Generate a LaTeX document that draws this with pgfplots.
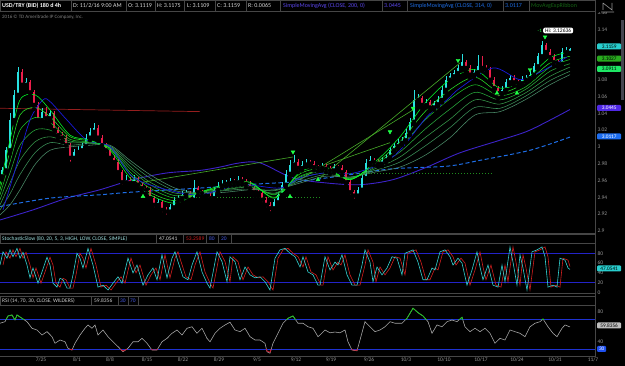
\documentclass[border=0pt]{standalone}
\usepackage{fontspec}
\setmainfont{Carlito}
\usepackage{pgfplots}
\usepackage{pgfplotstable}
\pgfplotsset{compat=1.18}
\definecolor{upc}{RGB}{40,225,225}
\definecolor{dnc}{RGB}{235,30,75}
\definecolor{rA}{RGB}{0,255,40}
\definecolor{rB}{RGB}{40,225,40}
\definecolor{rC}{RGB}{30,195,40}
\definecolor{rD}{RGB}{40,170,60}
\definecolor{rE}{RGB}{55,155,75}
\definecolor{rF}{RGB}{60,145,90}
\definecolor{rG}{RGB}{75,140,105}
\definecolor{emab}{RGB}{25,25,220}
\definecolor{smaA}{RGB}{60,35,200}
\definecolor{smaB}{RGB}{30,110,230}
\definecolor{hred}{RGB}{150,30,30}
\definecolor{trendg}{RGB}{70,170,40}
\definecolor{dotg}{RGB}{30,140,30}
\definecolor{arrg}{RGB}{30,255,70}
\definecolor{stk}{RGB}{50,210,210}
\definecolor{std}{RGB}{210,30,30}
\definecolor{band}{RGB}{35,35,200}
\definecolor{rsigray}{RGB}{165,165,165}
\definecolor{rsig}{RGB}{20,200,20}
\definecolor{rsir}{RGB}{220,20,40}
\definecolor{rband}{RGB}{30,50,210}
\definecolor{tickg}{RGB}{150,150,150}
\definecolor{boxl}{RGB}{70,70,70}
\definecolor{sbar}{RGB}{70,70,80}
\definecolor{ribt}{RGB}{20,100,20}
\definecolor{stht}{RGB}{160,225,225}
\definecolor{hdrt}{RGB}{90,70,235}
\definecolor{bxcy}{RGB}{40,205,205}
\definecolor{bxgr}{RGB}{40,170,30}
\definecolor{bxlg}{RGB}{30,230,100}
\definecolor{bxpu}{RGB}{80,40,230}
\definecolor{bxbl}{RGB}{30,110,240}
\definecolor{bxgy}{RGB}{190,190,190}
\definecolor{bxb3}{RGB}{30,80,240}
\definecolor{bluet}{RGB}{70,90,230}
\newcommand\ft{\fontsize{5.5}{6.5}\selectfont}
\newcommand\hf{\fontsize{6}{7}\selectfont}

\pgfplotstableread{
x o h l c
2 2.965 2.976 2.961 2.972
6 2.972 3.000 2.969 2.996
10 2.996 3.040 2.992 3.032
14 3.032 3.068 3.028 3.062
18 3.062 3.095 3.058 3.089
26 3.074 3.082 3.070 3.077
42 3.032 3.046 3.029 3.042
50 3.034 3.044 3.030 3.040
74 2.987 2.998 2.984 2.994
78 2.994 3.001 2.990 2.996
82 2.996 3.005 2.993 3.001
86 3.001 3.015 2.998 3.011
90 3.011 3.022 3.008 3.018
94 3.018 3.028 3.014 3.023
126 2.958 2.966 2.955 2.961
134 2.957 2.966 2.954 2.961
158 2.931 2.938 2.927 2.934
170 2.923 2.932 2.920 2.928
174 2.928 2.940 2.925 2.937
178 2.937 2.943 2.933 2.939
182 2.939 2.947 2.936 2.943
186 2.943 2.949 2.940 2.945
194 2.937 2.960 2.934 2.951
214 2.939 2.952 2.936 2.949
218 2.949 2.958 2.946 2.954
222 2.954 2.960 2.951 2.956
226 2.956 2.961 2.953 2.957
230 2.957 2.963 2.954 2.959
238 2.958 2.965 2.955 2.961
274 2.927 2.938 2.924 2.934
278 2.934 2.946 2.931 2.943
282 2.943 2.958 2.940 2.955
286 2.955 2.972 2.952 2.968
290 2.968 2.984 2.965 2.979
294 2.979 2.990 2.975 2.982
302 2.975 2.983 2.972 2.979
306 2.979 2.985 2.976 2.981
322 2.975 2.981 2.972 2.977
334 2.972 2.980 2.969 2.976
358 2.942 2.952 2.939 2.949
362 2.949 2.967 2.946 2.963
366 2.963 2.985 2.960 2.981
370 2.981 2.989 2.978 2.984
382 2.980 2.988 2.977 2.984
386 2.984 2.992 2.981 2.988
390 2.988 3.000 2.985 2.996
394 2.996 3.005 2.993 3.001
398 3.001 3.009 2.998 3.005
402 3.005 3.012 3.002 3.008
406 3.008 3.021 3.005 3.017
410 3.017 3.034 3.014 3.030
414 3.030 3.068 3.027 3.056
418 3.056 3.063 3.052 3.058
426 3.050 3.057 3.047 3.053
434 3.047 3.055 3.044 3.051
438 3.051 3.060 3.048 3.056
442 3.056 3.072 3.053 3.068
446 3.068 3.084 3.065 3.080
450 3.080 3.088 3.077 3.084
454 3.084 3.092 3.081 3.088
458 3.088 3.098 3.085 3.094
462 3.094 3.110 3.091 3.101
474 3.086 3.093 3.083 3.089
478 3.089 3.109 3.086 3.096
502 3.064 3.072 3.060 3.068
506 3.068 3.081 3.065 3.077
510 3.077 3.086 3.074 3.082
522 3.076 3.084 3.073 3.080
526 3.080 3.086 3.077 3.082
530 3.082 3.090 3.079 3.086
534 3.086 3.100 3.083 3.096
538 3.096 3.112 3.093 3.108
542 3.108 3.126 3.105 3.121
562 3.099 3.118 3.096 3.113
566 3.113 3.119 3.110 3.115
570 3.112 3.118 3.111 3.116
}\upcandles

\pgfplotstableread{
x o h l c
22 3.089 3.093 3.070 3.074
30 3.077 3.080 3.061 3.065
34 3.065 3.068 3.045 3.050
38 3.050 3.053 3.028 3.032
46 3.042 3.047 3.030 3.034
54 3.040 3.043 3.016 3.020
58 3.020 3.024 3.010 3.014
62 3.014 3.018 3.006 3.011
66 3.011 3.014 2.997 3.002
70 3.002 3.005 2.980 2.987
98 3.023 3.026 3.007 3.011
102 3.011 3.014 2.998 3.002
106 3.002 3.005 2.991 2.996
110 2.996 2.999 2.983 2.987
114 2.987 2.990 2.978 2.982
118 2.982 2.985 2.966 2.970
122 2.970 2.973 2.953 2.958
130 2.961 2.964 2.953 2.957
138 2.961 2.964 2.951 2.955
142 2.955 2.958 2.947 2.951
146 2.951 2.954 2.944 2.949
150 2.949 2.952 2.935 2.939
154 2.939 2.942 2.926 2.931
162 2.934 2.937 2.920 2.925
166 2.925 2.928 2.917 2.923
190 2.945 2.948 2.933 2.937
198 2.951 2.954 2.942 2.946
202 2.946 2.949 2.941 2.945
206 2.945 2.948 2.938 2.942
210 2.942 2.945 2.935 2.939
234 2.959 2.962 2.954 2.958
242 2.961 2.964 2.955 2.959
246 2.959 2.962 2.952 2.956
250 2.956 2.959 2.947 2.951
254 2.951 2.954 2.942 2.946
258 2.946 2.949 2.941 2.945
262 2.945 2.948 2.932 2.937
266 2.937 2.940 2.926 2.931
270 2.931 2.934 2.921 2.927
298 2.982 2.985 2.970 2.975
310 2.981 2.984 2.976 2.980
314 2.980 2.983 2.972 2.976
318 2.976 2.979 2.971 2.975
326 2.977 2.980 2.970 2.974
330 2.974 2.977 2.968 2.972
338 2.976 2.979 2.971 2.975
342 2.975 2.978 2.966 2.970
346 2.970 2.973 2.954 2.958
350 2.958 2.961 2.941 2.946
354 2.946 2.949 2.936 2.942
374 2.984 2.987 2.978 2.982
378 2.982 2.986 2.977 2.980
422 3.058 3.061 3.046 3.050
430 3.053 3.056 3.043 3.047
466 3.101 3.104 3.090 3.094
470 3.094 3.097 3.082 3.086
482 3.096 3.108 3.090 3.094
486 3.094 3.098 3.088 3.092
490 3.092 3.095 3.076 3.080
494 3.080 3.083 3.066 3.070
498 3.070 3.073 3.058 3.064
514 3.082 3.085 3.073 3.077
518 3.077 3.080 3.072 3.076
546 3.121 3.124 3.109 3.113
550 3.113 3.116 3.103 3.107
554 3.107 3.110 3.097 3.101
558 3.101 3.104 3.095 3.099
}\dncandles

\pgfplotstableread{
x r1 r2 r3 r4 r5 r6 r7
0 2.955 2.949 2.943 2.937 2.931 2.925 2.919
10 3.008 2.995 2.982 2.969 2.957 2.944 2.931
20 3.056 3.038 3.020 3.002 2.984 2.967 2.949
35 3.062 3.047 3.035 3.020 3.006 2.993 2.979
50 3.044 3.036 3.029 3.020 3.012 3.005 2.996
70 3.014 3.012 3.009 3.007 3.005 3.002 3.000
90 3.008 3.007 3.006 3.005 3.005 3.004 3.002
110 2.996 2.998 2.999 2.999 3.000 3.001 3.002
130 2.963 2.967 2.970 2.974 2.977 2.981 2.984
150 2.943 2.946 2.951 2.955 2.958 2.963 2.967
175 2.933 2.936 2.939 2.942 2.945 2.948 2.951
200 2.946 2.946 2.946 2.946 2.945 2.945 2.945
225 2.955 2.953 2.952 2.950 2.949 2.948 2.946
250 2.958 2.957 2.955 2.953 2.952 2.950 2.949
275 2.939 2.940 2.943 2.944 2.945 2.948 2.949
300 2.970 2.968 2.965 2.964 2.962 2.959 2.957
325 2.976 2.974 2.972 2.971 2.969 2.967 2.965
350 2.961 2.961 2.962 2.962 2.963 2.964 2.964
375 2.982 2.980 2.979 2.976 2.974 2.972 2.970
400 3.012 3.006 3.000 2.994 2.988 2.982 2.976
425 3.052 3.042 3.032 3.021 3.011 3.001 2.990
450 3.080 3.068 3.057 3.045 3.033 3.023 3.011
475 3.092 3.083 3.074 3.065 3.056 3.047 3.038
500 3.070 3.065 3.061 3.056 3.051 3.046 3.042
525 3.080 3.076 3.071 3.068 3.064 3.060 3.056
550 3.106 3.100 3.095 3.090 3.084 3.079 3.074
570 3.113 3.108 3.104 3.099 3.095 3.090 3.086
}\ribbon

\pgfplotstableread{
x v
0 64.7
5 66.8
8 74.4
12 75.7
15 69
17 75.7
22 71.3
27 66.8
32 58
37 55.7
42 49
47 53.5
52 46.8
55 38
60 42.4
65 40
68 31.3
72 29
75 38
80 49
85 58
88 62.4
92 58
95 62.4
98 49
103 55.7
108 46.8
113 40
118 33.5
123 26.8
128 31.3
133 40
138 40
142 44.6
147 38
152 29
157 29
162 40
167 44.6
172 51.3
177 55.7
182 49
187 58
192 60
197 51.3
202 58
207 44.6
210 40
215 51.3
220 58
225 62.4
230 66
235 55.7
240 53.5
245 58
250 46.8
255 42.4
260 42.4
265 38
267 26.8
270 24.7
273 38
278 51.3
283 64.7
288 71.3
293 74.4
298 64.7
303 64.7
308 60
313 58
318 46.8
320 49
325 55.7
330 52
335 53
340 52
345 55.7
348 40
352 29
357 28
360 42.4
365 66.8
370 60
375 53.5
380 55.7
385 60
390 66.8
395 64.7
402 64.7
407 71.3
413 84.7
418 78.8
423 74.4
428 66.8
432 51.3
437 62.4
442 60
447 66.8
452 69
457 66.8
462 72.7
465 60
470 53.5
475 58
480 53.5
485 58
490 51.3
495 38
500 44.6
505 42.4
510 55.7
515 53.5
520 51.3
525 46.8
530 60
535 64.7
540 66.8
543 70.4
548 60
553 51.3
557 46.8
562 58
565 62.4
570 59.8
}\rsi

\begin{document}
\begin{tikzpicture}[x=1pt,y=1pt]
\useasboundingbox (0pt,0pt) rectangle (625pt,366pt);
\fill[black] (0pt,0pt) rectangle (625pt,366pt);

% ---------------- main price panel ----------------
\begin{axis}[at={(0pt,133pt)}, anchor=south west, scale only axis,
  width=595pt, height=221pt,
  xmin=0, xmax=595, ymin=2.8975, ymax=3.1606,
  axis line style={draw=none}, xtick=\empty,
  ytick={2.9,2.92,2.94,2.96,2.98,3,3.02,3.04,3.06,3.08,3.14,3.16},
  yticklabels={2.9,2.92,2.94,2.96,2.98,3,3.02,3.04,3.06,3.08,3.14,3.16},
  yticklabel pos=right, major tick length=0pt,
  /pgf/number format/assume math mode=true,
  yticklabel style={font=\ft, text=tickg, anchor=west, xshift=-1pt},
  clip=true]
\addplot[smaA, line width=0.9pt, smooth] coordinates {(0,2.913)(33,2.925)(67,2.939)(100,2.949)(133,2.961)(167,2.969)(200,2.972)(220,2.976)(240,2.981)(260,2.981)(293,2.963)(327,2.957)(360,2.955)(393,2.961)(427,2.976)(460,2.993)(500,3.008)(530,3.020)(570,3.0445)};
\addplot[smaB, line width=1pt, dash pattern=on 4pt off 2.5pt, smooth] coordinates {(0,2.929)(50,2.939)(100,2.943)(130,2.946)(200,2.951)(260,2.956)(300,2.959)(350,2.967)(393,2.974)(447,2.977)(480,2.984)(530,2.996)(570,3.0117)};
\addplot[hred, line width=0.7pt] coordinates {(0,3.046)(200,3.042)};
\addplot[only marks, mark=none, forget plot, error bars/.cd, y dir=plus, y explicit, error mark=none,
  error bar style={line width=0.6pt, draw=upc}] table[x=x, y=l, y error expr=\thisrow{h}-\thisrow{l}] {\upcandles};
\addplot[only marks, mark=none, forget plot, error bars/.cd, y dir=plus, y explicit, error mark=none,
  error bar style={line width=2.9pt, draw=upc, line cap=butt}] table[x=x, y=o, y error expr=\thisrow{c}-\thisrow{o}] {\upcandles};
\addplot[only marks, mark=none, forget plot, error bars/.cd, y dir=plus, y explicit, error mark=none,
  error bar style={line width=0.6pt, draw=dnc}] table[x=x, y=l, y error expr=\thisrow{h}-\thisrow{l}] {\dncandles};
\addplot[only marks, mark=none, forget plot, error bars/.cd, y dir=plus, y explicit, error mark=none,
  error bar style={line width=2.9pt, draw=dnc, line cap=butt}] table[x=x, y=c, y error expr=\thisrow{o}-\thisrow{c}] {\dncandles};
\addplot[rG, line width=0.55pt, smooth] table[x=x, y=r7] {\ribbon};
\addplot[rF, line width=0.55pt, smooth] table[x=x, y=r6] {\ribbon};
\addplot[rE, line width=0.55pt, smooth] table[x=x, y=r5] {\ribbon};
\addplot[rD, line width=0.55pt, smooth] table[x=x, y=r4] {\ribbon};
\addplot[rC, line width=0.55pt, smooth] table[x=x, y=r3] {\ribbon};
\addplot[rB, line width=0.55pt, smooth] table[x=x, y=r2] {\ribbon};
\addplot[emab, line width=0.7pt, smooth] coordinates {(3,2.925)(15,2.972)(30,3.032)(43,3.056)(50,3.054)(67,3.032)(87,3.008)(110,3.000)(133,2.964)(167,2.949)(200,2.943)(240,2.955)(280,2.951)(300,2.963)(330,2.970)(350,2.968)(380,2.979)(400,2.996)(427,3.036)(447,3.056)(460,3.070)(493,3.094)(520,3.080)(540,3.089)(567,3.107)};
\addplot[rA, line width=0.55pt, smooth] table[x=x, y=r1] {\ribbon};
\addplot[trendg, line width=0.6pt] coordinates {(143,2.958)(293,2.988)};
\addplot[trendg, line width=0.6pt] coordinates {(300,2.961)(413,3.044)};
\addplot[trendg, line width=0.6pt] coordinates {(320,2.963)(460,3.100)};
\addplot[trendg, line width=0.6pt] coordinates {(327,2.979)(390,3.005)};
\addplot[dotg, line width=0.8pt, dash pattern=on 1.2pt off 1.8pt] coordinates {(190,2.940)(320,2.940)};
\addplot[dotg, line width=0.8pt, dash pattern=on 1.2pt off 1.8pt] coordinates {(347,2.969)(493,2.969)};
\addplot[only marks, mark=triangle*, mark size=2.2pt, mark options={rotate=180, fill=arrg, draw=arrg}] coordinates {(293,2.994)(390,3.018)(413,3.046)(458,3.103)(530,3.092)(545,3.131)};
\addplot[only marks, mark=triangle*, mark size=2.2pt, mark options={fill=arrg, draw=arrg}] coordinates {(143,2.941)(290,2.941)(318,2.961)(497,3.064)(517,3.064)};
\end{axis}

% ---------------- stochastic panel ----------------
\begin{axis}[at={(0pt,73.5pt)}, anchor=south west, scale only axis,
  width=595pt, height=49pt,
  xmin=0, xmax=595, ymin=0, ymax=100,
  axis line style={draw=none}, xtick=\empty,
  ytick={0,20,40,60,80}, yticklabels={0,20,40,60,80},
  yticklabel pos=right, major tick length=0pt,
  yticklabel style={font=\ft, text=tickg, anchor=west, xshift=-1pt},
  clip=true]
\addplot[band, line width=1pt] coordinates {(0,80)(595,80)};
\addplot[band, line width=1pt] coordinates {(0,20)(595,20)};
\addplot[std, line width=0.6pt] coordinates {(3,56)(6,83)(10,70)(13,87)(16,73)(20,90)(23,70)(26,82)(30,56)(33,30)(36,50)(41,19)(45,42)(50,72)(53,56)(56,19)(60,11)(63,29)(66,26)(70,9)(73,9)(76,36)(80,80)(83,70)(86,50)(91,90)(96,56)(101,11)(106,15)(111,5)(116,19)(121,32)(125,19)(131,70)(136,40)(140,56)(146,15)(151,36)(156,50)(160,26)(165,77)(170,30)(175,70)(178,83)(181,63)(186,32)(191,26)(195,56)(200,83)(205,42)(210,19)(213,9)(220,83)(225,63)(230,22)(233,73)(238,63)(243,26)(248,52)(253,36)(258,30)(263,32)(268,22)(273,5)(278,70)(283,87)(288,90)(293,80)(298,73)(303,52)(306,73)(311,42)(316,36)(321,15)(323,15)(328,73)(333,46)(338,62)(341,56)(345,77)(350,36)(355,15)(360,15)(365,56)(368,87)(373,62)(376,22)(380,52)(385,36)(390,50)(395,73)(400,70)(405,36)(408,80)(416,87)(421,62)(426,26)(430,26)(435,50)(438,46)(443,83)(448,87)(453,73)(456,56)(461,70)(465,60)(470,15)(475,46)(480,83)(483,52)(486,26)(491,56)(496,15)(501,11)(505,56)(508,22)(513,93)(516,62)(520,15)(523,77)(526,50)(530,5)(535,83)(540,87)(545,93)(548,73)(551,11)(556,15)(560,11)(563,70)(568,66)(570,53)};
\addplot[stk, line width=0.6pt] coordinates {(0,56)(3,83)(7,70)(10,87)(13,73)(17,90)(20,70)(23,82)(27,56)(30,30)(33,50)(38,19)(42,42)(47,72)(50,56)(53,19)(57,11)(60,29)(63,26)(67,9)(70,9)(73,36)(77,80)(80,70)(83,50)(88,90)(93,56)(98,11)(103,15)(108,5)(113,19)(118,32)(122,19)(128,70)(133,40)(137,56)(143,15)(148,36)(153,50)(157,26)(162,77)(167,30)(172,70)(175,83)(178,63)(183,32)(188,26)(192,56)(197,83)(202,42)(207,19)(210,9)(217,83)(222,63)(227,22)(230,73)(235,63)(240,26)(245,52)(250,36)(255,30)(260,32)(265,22)(270,5)(275,70)(280,87)(285,90)(290,80)(295,73)(300,52)(303,73)(308,42)(313,36)(318,15)(320,15)(325,73)(330,46)(335,62)(338,56)(342,77)(347,36)(352,15)(357,15)(362,56)(365,87)(370,62)(373,22)(377,52)(382,36)(387,50)(392,73)(397,70)(402,36)(405,80)(413,87)(418,62)(423,26)(427,26)(432,50)(435,46)(440,83)(445,87)(450,73)(453,56)(458,70)(462,60)(467,15)(472,46)(477,83)(480,52)(483,26)(488,56)(493,15)(498,11)(502,56)(505,22)(510,93)(513,62)(517,15)(520,77)(523,50)(527,5)(532,83)(537,87)(542,93)(545,73)(548,11)(553,15)(557,11)(560,70)(565,66)(568,50)(570,47)};
\end{axis}

% ---------------- RSI panel ----------------
\begin{axis}[at={(0pt,11pt)}, anchor=south west, scale only axis,
  width=595pt, height=49pt,
  xmin=0, xmax=595, ymin=22.4, ymax=87.7,
  axis line style={draw=none},
  xtick={41,77,110,147,183,219,257,296,331,369,406,444,481,517,555,593},
  xticklabels={7/25,8/1,8/8,8/15,8/22,8/29,9/5,9/12,9/19,9/26,10/3,10/10,10/17,10/24,10/31,11/7},
  xticklabel style={font=\ft, text=tickg, yshift=1pt},
  ytick={40,80}, yticklabels={40,80},
  yticklabel pos=right, major tick length=0pt,
  yticklabel style={font=\ft, text=tickg, anchor=west, xshift=-1pt},
  clip=true]
\addplot[rband, line width=0.8pt] coordinates {(0,70)(595,70)};
\addplot[rband, line width=0.8pt] coordinates {(0,30)(595,30)};
\addplot[rsigray, line width=0.6pt] table[x=x, y=v] {\rsi};
\end{axis}
\begin{axis}[at={(0pt,46.7pt)}, anchor=south west, scale only axis, hide axis,
  width=595pt, height=30.3pt, xmin=0, xmax=595, ymin=70, ymax=110, clip=true]
\addplot[rsig, line width=0.7pt] table[x=x, y=v] {\rsi};
\end{axis}
\begin{axis}[at={(0pt,0pt)}, anchor=south west, scale only axis, hide axis,
  width=595pt, height=16.7pt, xmin=0, xmax=595, ymin=0, ymax=30, clip=true]
\addplot[rsir, line width=0.7pt] table[x=x, y=v] {\rsi};
\end{axis}

% ---------------- frames, headers, labels (pixel coords, y down) ----------------
\begin{scope}[shift={(0pt,366pt)}, yscale=-1]
\draw[boxl, line width=0.5pt] (595.5,12) -- (595.5,356);
\draw[boxl, line width=0.5pt] (0,233.5) -- (595.5,233.5);
\draw[boxl, line width=0.5pt] (0,293.5) -- (595.5,293.5);
\draw[boxl, line width=0.5pt] (0,356) -- (595.5,356);
\fill[black] (0,0) rectangle (625,12);
\foreach \a/\b in {0.5/71,71/126,126/155,155/184.5,184.5/215,215/246,246/280,280/382,382/407,407/503,503/529,529/595}
  {\draw[boxl, line width=0.5pt] (\a,0.5) rectangle (\b,11.5);}
\node[anchor=west, font=\hf\bfseries, text=white, inner sep=0pt] at (2,6) {USD/TRY (BID) 180 d 4h};
\node[anchor=west, font=\hf, text=white!85!black, inner sep=0pt] at (73,6) {D: 11/2/16 9:00 AM};
\node[anchor=west, font=\hf, text=white!85!black, inner sep=0pt] at (128,6) {O: 3.1119};
\node[anchor=west, font=\hf, text=white!85!black, inner sep=0pt] at (157,6) {H: 3.1175};
\node[anchor=west, font=\hf, text=white!85!black, inner sep=0pt] at (187,6) {L: 3.1109};
\node[anchor=west, font=\hf, text=white!85!black, inner sep=0pt] at (217,6) {C: 3.1159};
\node[anchor=west, font=\hf, text=white!85!black, inner sep=0pt] at (248,6) {R: 0.0065};
\node[anchor=west, font=\hf, text=hdrt, inner sep=0pt] at (283,6) {SimpleMovingAvg (CLOSE, 200, 0)};
\node[anchor=west, font=\hf, text=hdrt, inner sep=0pt] at (384,6) {3.0445};
\node[anchor=west, font=\hf, text=smaB, inner sep=0pt] at (410,6) {SimpleMovingAvg (CLOSE, 314, 0)};
\node[anchor=west, font=\hf, text=smaB, inner sep=0pt] at (505,6) {3.0117};
\node[anchor=west, font=\hf, text=ribt, inner sep=0pt] at (531,6) {MovAvgExpRibbon};
\draw[tickg, line width=0.6pt] (603,3) -- (603,10) (603,3) -- (612,10) -- (612,3) (601,12) -- (614,12);
\node[anchor=west, font=\fontsize{5}{6}\selectfont, text=gray, inner sep=0pt] at (2,17) {2016 © TD Ameritrade IP Company, Inc.};
\fill[sbar] (621,20) rectangle (624,100);
\foreach \a/\b in {0.5/156,156/183,183/206,206/218,218/231,231/595}
  {\draw[boxl, line width=0.5pt] (\a,234) rectangle (\b,243);}
\node[anchor=west, font=\ft, text=stht, inner sep=0pt] at (2,238.5) {StochasticSlow (80, 20, 5, 3, HIGH, LOW, CLOSE, SIMPLE)};
\node[anchor=west, font=\ft, text=white!85!black, inner sep=0pt] at (159,238.5) {47.0541};
\node[anchor=west, font=\ft, text=std, inner sep=0pt] at (186,238.5) {53.2589};
\node[anchor=west, font=\ft, text=bluet, inner sep=0pt] at (209,238.5) {80};
\node[anchor=west, font=\ft, text=bluet, inner sep=0pt] at (221,238.5) {20};
\foreach \a/\b in {0.5/91,91/118,118/128,128/138,138/595}
  {\draw[boxl, line width=0.5pt] (\a,296.5) rectangle (\b,305.5);}
\node[anchor=west, font=\ft, text=white!80!black, inner sep=0pt] at (2,301) {RSI (14, 70, 30, CLOSE, WILDERS)};
\node[anchor=west, font=\ft, text=white!80!black, inner sep=0pt] at (94,301) {59.8356};
\node[anchor=west, font=\ft, text=bluet, inner sep=0pt] at (120,301) {30};
\node[anchor=west, font=\ft, text=bluet, inner sep=0pt] at (130,301) {70};
\tikzset{vb/.style={anchor=west, font=\fontsize{5.3}{6}\selectfont, inner xsep=1.2pt, inner ysep=0.7pt, rounded corners=1pt, minimum width=24pt, minimum height=6pt}}
\node[vb, fill=bxcy, text=black] at (597,46.5) {3.1159};
\node[vb, fill=bxgr, text=black] at (597,58.7) {3.1027};
\node[vb, fill=bxlg, text=black] at (597,69) {3.0911};
\node[vb, fill=bxpu, text=white] at (597,108) {3.0445};
\node[vb, fill=bxbl, text=white] at (597,136.5) {3.0117};
\node[vb, fill=bxcy, text=black] at (597,268.5) {47.0541};
\node[vb, fill=bxgy, text=black] at (597,325.5) {59.8356};
\node[vb, minimum width=9pt, fill=bxb3, text=white] at (597,349) {30};
\node[anchor=west, font=\fontsize{5.5}{6}\selectfont, fill=white, text=black, rounded corners=2pt, inner xsep=2pt, inner ysep=1pt] at (543,30.5) {Hi: 3.12636};
\node[anchor=east, font=\fontsize{5}{6}\selectfont, text=arrg, inner sep=0pt] at (542,31) {-1};
\end{scope}
\end{tikzpicture}
\end{document}
